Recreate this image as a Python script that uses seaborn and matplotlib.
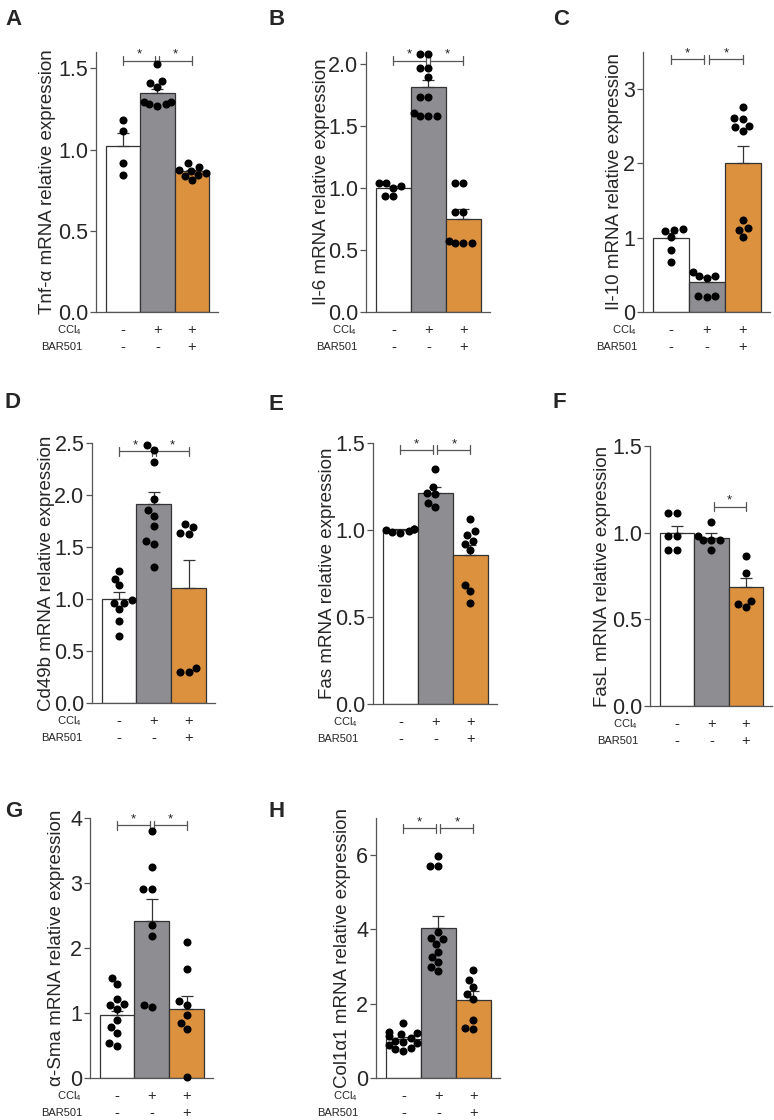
import numpy as np
import pandas as pd
import matplotlib
matplotlib.use("Agg")
import matplotlib.pyplot as plt
import seaborn as sns

# groups and treatment rows
groups = ["Vehicle", "CCl4", "CCl4 + BAR501"]
ccl4_signs = ["-", "+", "+"]
bar501_signs = ["-", "-", "+"]
bar_colors = ["#ffffff", "#8e8d92", "#dc913f"]

# A - Tnf-a
tnf_means = [1.02, 1.35, 0.865]
tnf_sem = [0.08, 0.025, 0.01]
tnf_ctrl = [1.18, 1.115, 0.916, 0.844]
tnf_ccl4 = [1.527, 1.408, 1.424, 1.383, 1.29, 1.28, 1.28, 1.29, 1.27]
tnf_bar = [0.916, 0.895, 0.875, 0.87, 0.855, 0.844, 0.838, 0.813]

# B - Il-6
il6_means = [1.0, 1.815, 0.754]
il6_sem = [0.015, 0.055, 0.075]
il6_ctrl = [1.04, 1.04, 1.02, 1.0, 0.935, 0.935]
il6_ccl4 = [2.08, 2.08, 1.97, 1.97, 1.90, 1.74, 1.74, 1.61, 1.58, 1.58, 1.58]
il6_bar = [1.04, 1.04, 0.81, 0.81, 0.57, 0.56, 0.56, 0.56]

# C - Il-10
il10_means = [1.0, 0.405, 2.0]
il10_sem = [0.06, 0.06, 0.24]
il10_ctrl = [1.12, 1.11, 1.09, 1.01, 0.84, 0.675]
il10_ccl4 = [0.54, 0.49, 0.48, 0.46, 0.22, 0.21, 0.20]
il10_bar = [2.76, 2.61, 2.60, 2.51, 2.49, 2.44, 1.24, 1.135, 1.11, 1.01]

# D - Cd49b
cd49_means = [1.0, 1.91, 1.106]
cd49_sem = [0.067, 0.12, 0.27]
cd49_ctrl = [1.27, 1.195, 1.13, 0.99, 0.96, 0.96, 0.90, 0.785, 0.64]
cd49_ccl4 = [2.48, 2.43, 2.32, 1.965, 1.86, 1.80, 1.70, 1.56, 1.53, 1.31]
cd49_bar = [1.72, 1.69, 1.63, 1.625, 0.336, 0.298, 0.295]

# E - Fas
fas_means = [1.0, 1.215, 0.854]
fas_sem = [0.005, 0.033, 0.06]
fas_ctrl = [1.005, 1.0, 1.005, 0.99, 0.995, 0.985]
fas_ccl4 = [1.35, 1.25, 1.21, 1.205, 1.155, 1.135]
fas_bar = [1.062, 0.994, 0.971, 0.937, 0.921, 0.885, 0.683, 0.648, 0.581]

# F - FasL
fasl_means = [1.0, 0.971, 0.685]
fasl_sem = [0.04, 0.027, 0.056]
fasl_ctrl = [1.115, 1.115, 0.98, 0.98, 0.898, 0.898]
fasl_ccl4 = [1.062, 0.98, 0.955, 0.955, 0.955, 0.898]
fasl_bar = [0.865, 0.769, 0.606, 0.59, 0.571]

# G - a-Sma
sma_means = [0.964, 2.41, 1.056]
sma_sem = [0.067, 0.35, 0.21]
sma_ctrl = [1.54, 1.44, 1.21, 1.14, 1.12, 1.06, 0.89, 0.79, 0.70, 0.54, 0.50]
sma_ccl4 = [3.80, 3.24, 2.91, 2.91, 2.36, 2.19, 1.13, 1.09]
sma_bar = [2.10, 1.68, 1.18, 1.12, 0.97, 0.85, 0.76, 0.015]

# H - Col1a1
col_means = [1.055, 4.03, 2.11]
col_sem = [0.06, 0.34, 0.22]
col_ctrl = [1.48, 1.25, 1.2, 1.18, 1.12, 1.07, 1.0, 0.97, 0.93, 0.88, 0.8, 0.77, 0.74]
col_ccl4 = [5.97, 5.72, 5.72, 3.92, 3.76, 3.74, 3.6, 3.39, 3.25, 3.11, 3.0, 2.89]
col_bar = [2.91, 2.65, 2.46, 2.25, 2.12, 1.57, 1.35, 1.31]

W, H = 774, 1120

sns.set_style("ticks")
plt.rcParams["font.family"] = ["Liberation Sans", "DejaVu Sans"]
plt.rcParams["mathtext.fontset"] = "custom"
plt.rcParams["mathtext.rm"] = "Liberation Sans"
plt.rcParams["mathtext.it"] = "Liberation Sans:italic"

fig = plt.figure(figsize=(W / 100, H / 100), dpi=100)

panels = [
    dict(letter="A", ylabel="Tnf-α mRNA relative expression",
         means=tnf_means, sem=tnf_sem, pts=[tnf_ctrl, tnf_ccl4, tnf_bar],
         box=(96, 218, 52, 312), ylim=1.6, ticks=[0, 0.5, 1.0, 1.5], fmt="{:.1f}",
         lab=(5, 25), ylab_x=56, row_x=82, sig_y=1.546, sig=[(0, 0.93), (1.06, 2)]),
    dict(letter="B", ylabel="Il-6 mRNA relative expression",
         means=il6_means, sem=il6_sem, pts=[il6_ctrl, il6_ccl4, il6_bar],
         box=(366, 490, 52, 312), ylim=2.1, ticks=[0, 0.5, 1.0, 1.5, 2.0], fmt="{:.1f}",
         lab=(268, 25), ylab_x=330, row_x=357, sig_y=2.03, sig=[(0, 0.93), (1.06, 2)]),
    dict(letter="C", ylabel="Il-10 mRNA relative expression",
         means=il10_means, sem=il10_sem, pts=[il10_ctrl, il10_ccl4, il10_bar],
         box=(643, 770, 52, 312), ylim=3.5, ticks=[0, 1, 2, 3], fmt="{:.0f}",
         lab=(553, 25), ylab_x=623, row_x=637, sig_y=3.4, sig=[(0, 0.93), (1.06, 2)]),
    dict(letter="D", ylabel="Cd49b mRNA relative expression",
         means=cd49_means, sem=cd49_sem, pts=[cd49_ctrl, cd49_ccl4, cd49_bar],
         box=(92, 215, 443, 703), ylim=2.5, ticks=[0, 0.5, 1.0, 1.5, 2.0, 2.5], fmt="{:.1f}",
         lab=(5, 408), ylab_x=55, row_x=82, sig_y=2.42, sig=[(0, 0.95), (1.05, 2)]),
    dict(letter="E", ylabel="Fas mRNA relative expression",
         means=fas_means, sem=fas_sem, pts=[fas_ctrl, fas_ccl4, fas_bar],
         box=(373, 497, 443, 704), ylim=1.5, ticks=[0, 0.5, 1.0, 1.5], fmt="{:.1f}",
         lab=(268, 410), ylab_x=336, row_x=358, sig_y=1.46, sig=[(0, 0.93), (1.06, 2)]),
    dict(letter="F", ylabel="FasL mRNA relative expression",
         means=fasl_means, sem=fasl_sem, pts=[fasl_ctrl, fasl_ccl4, fasl_bar],
         box=(650, 772, 446, 706), ylim=1.5, ticks=[0, 0.5, 1.0, 1.5], fmt="{:.1f}",
         lab=(553, 408), ylab_x=611, row_x=638, sig_y=1.15, sig=[(1.07, 2)]),
    dict(letter="G", ylabel="α-Sma mRNA relative expression",
         means=sma_means, sem=sma_sem, pts=[sma_ctrl, sma_ccl4, sma_bar],
         box=(90, 213, 818, 1078), ylim=4, ticks=[0, 1, 2, 3, 4], fmt="{:.0f}",
         lab=(5, 817), ylab_x=65, row_x=82, sig_y=3.89, sig=[(0, 0.95), (1.05, 2)]),
    dict(letter="H", ylabel="Col1α1 mRNA relative expression",
         means=col_means, sem=col_sem, pts=[col_ctrl, col_ccl4, col_bar],
         box=(376, 500, 818, 1078), ylim=7, ticks=[0, 2, 4, 6], fmt="{:.0f}",
         lab=(268, 817), ylab_x=351, row_x=358, sig_y=6.73, sig=[(0, 0.93), (1.06, 2)]),
]

line_col = "#555555"

for p in panels:
    x0, x1, top, bottom = p["box"]
    ax = fig.add_axes([x0 / W, 1 - bottom / H, (x1 - x0) / W, (bottom - top) / H])

    sns.barplot(x=groups, y=p["means"], hue=groups, palette=bar_colors, width=1.0,
                saturation=1, edgecolor="#333333", linewidth=0.9, errorbar=None,
                legend=False, ax=ax)
    ax.errorbar(range(3), p["means"], yerr=[np.zeros(3), p["sem"]], fmt="none",
                ecolor="#333333", elinewidth=0.9, capsize=4, capthick=0.9, zorder=3)

    df = pd.DataFrame({
        "group": np.repeat(groups, [len(v) for v in p["pts"]]),
        "value": np.concatenate(p["pts"]),
    })
    sns.swarmplot(data=df, x="group", y="value", order=groups, color="black",
                  size=5.8, ax=ax, zorder=5, warn_thresh=1.0)
    for coll in ax.collections:
        coll.set_clip_on(False)

    # significance brackets
    ymax = p["ylim"]
    cap = ymax * 4.5 / (bottom - top)
    y = p["sig_y"]
    for a, b in p["sig"]:
        ax.plot([a, b], [y, y], color=line_col, lw=0.9, clip_on=False)
        ax.plot([a, a], [y - cap, y + cap], color=line_col, lw=0.9, clip_on=False)
        ax.plot([b, b], [y - cap, y + cap], color=line_col, lw=0.9, clip_on=False)
        ax.annotate("*", xy=((a + b) / 2, y), xytext=(0, 0), textcoords="offset pixels",
                    ha="center", va="bottom", fontsize=9.5, color="#222222")

    ax.set_xlim(-0.78, 2.76)
    ax.set_ylim(0, ymax)
    ax.set_yticks(p["ticks"])
    ax.set_yticklabels([p["fmt"].format(t) for t in p["ticks"]])
    ax.set_xticks([])
    ax.set_xlabel("")
    ax.set_ylabel(p["ylabel"], fontsize=13.5)
    ax.yaxis.set_label_coords((p["ylab_x"] - x0) / (x1 - x0), 0.5)
    sns.despine(ax=ax)
    for s in ["left", "bottom"]:
        ax.spines[s].set_color(line_col)
        ax.spines[s].set_linewidth(0.9)
    ax.tick_params(axis="y", length=4, width=0.9, color=line_col, pad=1.5, labelsize=15.5)

    # treatment rows under the bars
    for i in range(3):
        ax.annotate(ccl4_signs[i], xy=(i, 0), xycoords=("data", "axes fraction"),
                    xytext=(0, -18), textcoords="offset pixels",
                    ha="center", va="center", fontsize=10.5)
        ax.annotate(bar501_signs[i], xy=(i, 0), xycoords=("data", "axes fraction"),
                    xytext=(0, -35), textcoords="offset pixels",
                    ha="center", va="center", fontsize=10.5)
    fig.text(p["row_x"] / W, 1 - (bottom + 18) / H, r"CCl$_4$", ha="right", va="center", fontsize=8)
    fig.text(p["row_x"] / W, 1 - (bottom + 35) / H, "BAR501", ha="right", va="center", fontsize=8)

    fig.text(p["lab"][0] / W, 1 - p["lab"][1] / H, p["letter"], ha="left", va="baseline",
             fontsize=16, fontweight="bold")

plt.savefig("out.png", dpi=100)
